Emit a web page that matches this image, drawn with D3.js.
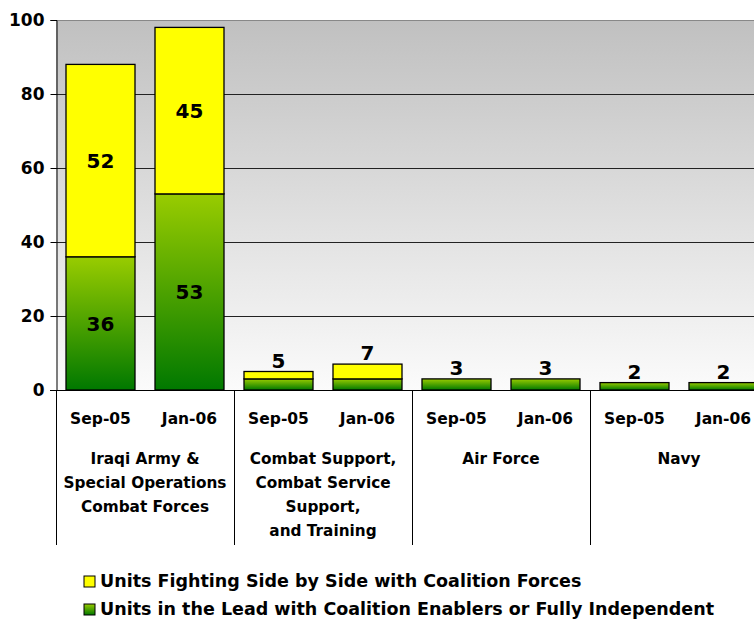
<!DOCTYPE html>
<html>
<head>
<meta charset="utf-8">
<script src="https://cdn.jsdelivr.net/npm/d3@7"></script>
<style>
  body { margin: 0; background: #fff; }
  text { font-family: "DejaVu Sans", Arial, sans-serif; font-weight: bold; fill: #000; }
</style>
</head>
<body>
<div id="chart"></div>
<script>
var groups = ["Iraqi Army", "Combat Support", "Air Force", "Navy"];
var groupLabels = [
  ["Iraqi Army &", "Special Operations", "Combat Forces"],
  ["Combat Support,", "Combat Service", "Support,", "and Training"],
  ["Air Force"],
  ["Navy"]
];
var periods = ["Sep-05", "Jan-06"];
var leadValues = [36, 53, 3, 3, 3, 3, 2, 2];
var sideValues = [52, 45, 2, 4, 0, 0, 0, 0];
var yTicks = [0, 20, 40, 60, 80, 100];
var legendLabels = [
  "Units Fighting Side by Side with Coalition Forces",
  "Units in the Lead with Coalition Enablers or Fully Independent"
];

(function() {
  var width = 754, height = 623;
  var plot = { left: 56, top: 20, right: 768, bottom: 390 };

  var svg = d3.select("#chart")
    .append("svg")
    .attr("width", width)
    .attr("height", height);

  var defs = svg.append("defs");
  var bg = defs.append("linearGradient").attr("id", "bg")
    .attr("x1", 0).attr("y1", 0).attr("x2", 0).attr("y2", 1);
  bg.append("stop").attr("offset", "0%").attr("stop-color", "#c0c0c0");
  bg.append("stop").attr("offset", "100%").attr("stop-color", "#fbfbfb");

  var green = defs.append("linearGradient").attr("id", "green")
    .attr("x1", 0).attr("y1", 0).attr("x2", 0).attr("y2", 1);
  green.append("stop").attr("offset", "0%").attr("stop-color", "#99cc00");
  green.append("stop").attr("offset", "100%").attr("stop-color", "#007800");

  var bars = [];
  groups.forEach(function(g, gi) {
    periods.forEach(function(p, pi) {
      var i = gi * periods.length + pi;
      bars.push({ id: i, group: g, period: p, lead: leadValues[i], side: sideValues[i] });
    });
  });

  var xGroup = d3.scaleBand().domain(groups).range([plot.left, plot.right]);
  var x = d3.scaleBand().domain(bars.map(function(d) { return d.id; }))
    .range([plot.left, plot.right])
    .paddingInner(20 / 89)
    .paddingOuter(10 / 89);
  var y = d3.scaleLinear().domain([0, 100]).range([plot.bottom, plot.top]);

  // plot background
  svg.append("rect")
    .attr("x", plot.left).attr("y", plot.top)
    .attr("width", plot.right - plot.left).attr("height", plot.bottom - plot.top)
    .attr("fill", "url(#bg)");
  svg.append("line")
    .attr("x1", plot.left).attr("x2", plot.right)
    .attr("y1", plot.top + 0.5).attr("y2", plot.top + 0.5)
    .attr("stroke", "#888").attr("stroke-width", 1.2);

  // gridlines
  svg.selectAll(".grid")
    .data(yTicks.filter(function(t) { return t > 0 && t < 100; }))
    .enter().append("line")
    .attr("class", "grid")
    .attr("x1", plot.left).attr("x2", plot.right)
    .attr("y1", function(d) { return Math.round(y(d)) + 0.5; })
    .attr("y2", function(d) { return Math.round(y(d)) + 0.5; })
    .attr("stroke", "#222").attr("stroke-width", 1);

  // y axis
  var yAxis = d3.axisLeft(y).tickValues(yTicks).tickSize(6).tickPadding(6);
  var ya = svg.append("g")
    .attr("class", "axis y-axis")
    .attr("transform", "translate(" + (plot.left + 0.5) + ",0)")
    .call(yAxis);
  ya.select(".domain").attr("stroke", "#000");
  ya.selectAll(".tick line").attr("stroke", "#000");
  ya.selectAll(".tick text")
    .attr("font-size", 17)
    .attr("font-family", "DejaVu Sans, Arial, sans-serif")
    .attr("font-weight", "bold")
    .attr("fill", "#000");

  // bars: green lower segment
  svg.selectAll(".bar-lead")
    .data(bars)
    .enter().append("rect")
    .attr("class", "bar-lead")
    .attr("x", function(d) { return x(d.id); })
    .attr("y", function(d) { return y(d.lead); })
    .attr("width", x.bandwidth())
    .attr("height", function(d) { return y(0) - y(d.lead); })
    .attr("fill", "url(#green)")
    .attr("stroke", "#000").attr("stroke-width", 1.3);

  svg.selectAll(".bar-side")
    .data(bars.filter(function(d) { return d.side > 0; }))
    .enter().append("rect")
    .attr("class", "bar-side")
    .attr("x", function(d) { return x(d.id); })
    .attr("y", function(d) { return y(d.lead + d.side); })
    .attr("width", x.bandwidth())
    .attr("height", function(d) { return y(d.lead) - y(d.lead + d.side); })
    .attr("fill", "#ffff00")
    .attr("stroke", "#000").attr("stroke-width", 1.3);

  // value labels
  var big = bars.filter(function(d) { return d.lead + d.side > 20; });
  var small = bars.filter(function(d) { return d.lead + d.side <= 20; });

  svg.selectAll(".lbl-lead")
    .data(big)
    .enter().append("text")
    .attr("class", "lbl-lead")
    .attr("x", function(d) { return x(d.id) + x.bandwidth() / 2; })
    .attr("y", function(d) { return (y(0) + y(d.lead)) / 2; })
    .attr("dy", "0.36em")
    .attr("text-anchor", "middle")
    .attr("font-size", 20)
    .text(function(d) { return d.lead; });

  svg.selectAll(".lbl-side")
    .data(big)
    .enter().append("text")
    .attr("class", "lbl-side")
    .attr("x", function(d) { return x(d.id) + x.bandwidth() / 2; })
    .attr("y", function(d) { return (y(d.lead) + y(d.lead + d.side)) / 2; })
    .attr("dy", "0.36em")
    .attr("text-anchor", "middle")
    .attr("font-size", 20)
    .text(function(d) { return d.side; });

  svg.selectAll(".lbl-total")
    .data(small)
    .enter().append("text")
    .attr("class", "lbl-total")
    .attr("x", function(d) { return x(d.id) + x.bandwidth() / 2; })
    .attr("y", function(d) { return y(d.lead + d.side) - 4; })
    .attr("text-anchor", "middle")
    .attr("font-size", 20)
    .text(function(d) { return d.lead + d.side; });

  // baseline
  svg.append("line")
    .attr("x1", plot.left - 6).attr("x2", plot.right)
    .attr("y1", plot.bottom + 0.5).attr("y2", plot.bottom + 0.5)
    .attr("stroke", "#000").attr("stroke-width", 1.2);

  // group separators
  svg.selectAll(".sep")
    .data(groups.concat(["end"]))
    .enter().append("line")
    .attr("class", "sep")
    .attr("x1", function(d, i) { return Math.round(plot.left + i * xGroup.step()) + 0.5; })
    .attr("x2", function(d, i) { return Math.round(plot.left + i * xGroup.step()) + 0.5; })
    .attr("y1", plot.bottom).attr("y2", 545)
    .attr("stroke", "#000").attr("stroke-width", 1);

  // period labels
  svg.selectAll(".period")
    .data(bars)
    .enter().append("text")
    .attr("class", "period")
    .attr("x", function(d) { return x(d.id) + x.bandwidth() / 2; })
    .attr("y", 423.5)
    .attr("text-anchor", "middle")
    .attr("font-size", 15.5)
    .text(function(d) { return d.period; });

  // group labels
  var gl = svg.selectAll(".group-label")
    .data(groups)
    .enter().append("text")
    .attr("class", "group-label")
    .attr("text-anchor", "middle")
    .attr("font-size", 15.3)
    .attr("y", 464);
  gl.selectAll("tspan")
    .data(function(d, i) { return groupLabels[i].map(function(s) { return { s: s, g: d }; }); })
    .enter().append("tspan")
    .attr("x", function(d) { return xGroup(d.g) + xGroup.bandwidth() / 2; })
    .attr("dy", function(d, i) { return i === 0 ? 0 : 24; })
    .text(function(d) { return d.s; });

  // legend
  var legend = svg.selectAll(".legend")
    .data(legendLabels)
    .enter().append("g")
    .attr("class", "legend")
    .attr("transform", function(d, i) { return "translate(84," + (576 + i * 28) + ")"; });
  legend.append("rect")
    .attr("width", 11).attr("height", 11)
    .attr("fill", function(d, i) { return i === 0 ? "#ffff00" : "url(#green)"; })
    .attr("stroke", "#000").attr("stroke-width", 1);
  legend.append("text")
    .attr("x", 16).attr("y", 11)
    .attr("font-size", 17.5)
    .text(function(d) { return d; });
})();
</script>
</body>
</html>
